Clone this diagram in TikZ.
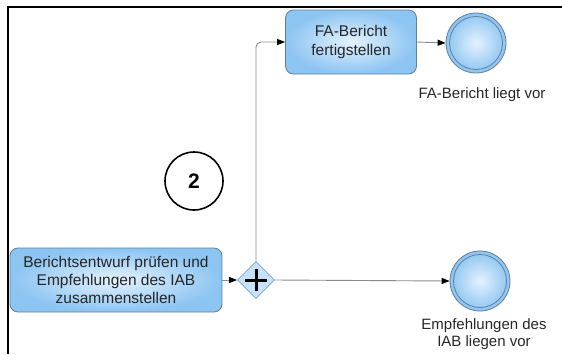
\documentclass[tikz,border=0pt]{standalone}
\usepackage{fontspec}
\setmainfont{Liberation Sans}
\usetikzlibrary{shapes.geometric,arrows.meta}
\definecolor{taskedge}{HTML}{5F7F9C}
\definecolor{taskout}{HTML}{8CC4F2}
\definecolor{taskin}{HTML}{E4F2FE}
\definecolor{conn}{HTML}{8A8A8A}
\definecolor{gwfill}{HTML}{C6E2FA}
\definecolor{gwedge}{HTML}{7FA4C4}
\tikzset{
  x=1pt, y=1pt,
  taskbox/.style={draw=taskedge, line width=0.8pt, rounded corners=8pt, inner color=taskin, outer color=taskout,
    align=center, font=\fontsize{15.5}{18.3}\selectfont, text=black!85},
  endev/.style={circle, draw=taskedge, line width=0.8pt, minimum size=60pt, inner sep=0pt, inner color=taskin, outer color=taskout},
  gateway/.style={diamond, draw=gwedge, line width=0.8pt, fill=gwfill, minimum width=37pt, minimum height=37pt, inner sep=0pt},
  flow/.style={draw=conn, line width=0.9pt, -{Triangle[length=8pt,width=6pt,color=black,fill=black]}},
  lbl/.style={align=center, font=\fontsize{15}{17}\selectfont, text=black!85},
  marker/.style={circle, draw=black, line width=1.6pt, minimum size=58pt, inner sep=0pt, font=\fontsize{21}{24}\selectfont\bfseries}
}
\begin{document}
\begin{tikzpicture}
\useasboundingbox (0,0) rectangle (562,-354);
\draw[line width=2.2pt] (8,-354) -- (8,-7) -- (562,-7);

\node[taskbox, minimum width=212pt, minimum height=64pt] (t1) at (116,-280) {Berichtsentwurf prüfen und\\Empfehlungen des IAB\\zusammenstellen};
\node[gateway] (gw) at (256,-280) {};
\draw[line width=3pt] ([xshift=-11pt]gw.center) -- ([xshift=11pt]gw.center);
\draw[line width=3pt] ([yshift=-11pt]gw.center) -- ([yshift=11pt]gw.center);

\node[taskbox, minimum width=131pt, minimum height=64pt] (t2) at (351,-42) {FA-Bericht\\fertigstellen};

\node[endev] (e1) at (476,-43) {};
\draw[taskedge, line width=0.8pt] (e1.center) circle (26.5pt);
\node[lbl, anchor=north] (l1) at (482,-84) {FA-Bericht liegt vor};

\node[endev] (e2) at (480,-281) {};
\draw[taskedge, line width=0.8pt] (e2.center) circle (26.5pt);
\node[lbl, anchor=north] (l2) at (484,-315) {Empfehlungen des\\IAB liegen vor};

\node[marker] (m2) at (194,-181) {2};

\draw[flow] (t1.east) -- (gw.west);
\draw[flow, rounded corners=5pt] (gw.north) |- (t2.west);
\draw[flow] (gw.east) -- (e2.west);
\draw[flow] (t2.east) -- (e1.west);
\end{tikzpicture}
\end{document}
